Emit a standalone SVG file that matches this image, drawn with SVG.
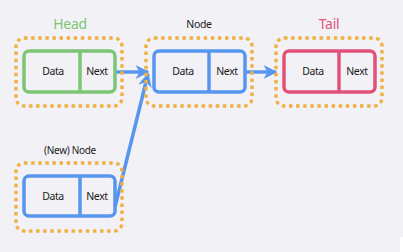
<svg xmlns="http://www.w3.org/2000/svg" width="403" height="252" viewBox="0 0 403 252">
<style>
.bg{fill:#f2f2f6}
.dot{fill:none;stroke:#f0b043;stroke-width:3.4;stroke-dasharray:3.5 3.6}
.box{fill:none;stroke-width:3.5}
.green{stroke:#7cc575}
.blue{stroke:#5796ee}
.pink{stroke:#e0527c}
.t{font-family:"Noto Sans","Open Sans",sans-serif;font-size:10.5px;fill:#1a1a1a;text-anchor:middle;letter-spacing:-0.4px}
.lbl{font-family:"Noto Sans","Open Sans",sans-serif;text-anchor:middle;letter-spacing:-0.3px}
.conn{fill:none;stroke:#5796ee;stroke-width:3.5}
</style>
<defs>
<marker id="ah" markerWidth="14" markerHeight="14" refX="9" refY="5" orient="auto" markerUnits="userSpaceOnUse" viewBox="0 0 10 10">
<path d="M0,0 L10,5 L0,10 L3,5 z" fill="#5796ee"/>
</marker>
</defs>
<rect class="bg" x="0" y="0" width="403" height="252"/>
<rect x="400" y="237" width="3" height="15" fill="#ffffff"/>
<g id="connectors">
<line class="conn" x1="116" y1="72" x2="148" y2="72" marker-end="url(#ah)"/>
<line class="conn" x1="115" y1="207" x2="148" y2="74" marker-end="url(#ah)"/>
<line class="conn" x1="245" y1="72" x2="276" y2="72" marker-end="url(#ah)"/>
</g>
<g id="head">
<text class="lbl" x="70" y="29" font-size="14" fill="#7cc575">Head</text>
<rect class="dot" x="16" y="38" width="106" height="68" rx="8"/>
<rect class="box green" x="24" y="51" width="91" height="41" rx="5"/>
<line class="box green" x1="80" y1="51" x2="80" y2="92"/>
<text class="t" x="53" y="75">Data</text>
<text class="t" x="97" y="75">Next</text>
</g>
<g id="node">
<text class="lbl" x="199" y="28" font-size="10.5" fill="#1a1a1a">Node</text>
<rect class="dot" x="146" y="38" width="106" height="68" rx="8"/>
<rect class="box blue" x="154" y="51" width="91" height="41" rx="5"/>
<line class="box blue" x1="209" y1="51" x2="209" y2="92"/>
<text class="t" x="183" y="75">Data</text>
<text class="t" x="227" y="75">Next</text>
</g>
<g id="tail">
<text class="lbl" x="329" y="29" font-size="14" fill="#e0527c">Tail</text>
<rect class="dot" x="276" y="38" width="106" height="68" rx="8"/>
<rect class="box pink" x="284" y="51" width="91" height="41" rx="5"/>
<line class="box pink" x1="339" y1="51" x2="339" y2="92"/>
<text class="t" x="313" y="75">Data</text>
<text class="t" x="357" y="75">Next</text>
</g>
<g id="newnode">
<text class="lbl" x="70" y="154" font-size="10" fill="#1a1a1a">(New) Node</text>
<rect class="dot" x="16" y="163" width="106" height="68" rx="8"/>
<rect class="box blue" x="24" y="176" width="91" height="40" rx="5"/>
<line class="box blue" x1="80" y1="176" x2="80" y2="216"/>
<text class="t" x="53" y="200">Data</text>
<text class="t" x="97" y="200">Next</text>
</g>
</svg>
